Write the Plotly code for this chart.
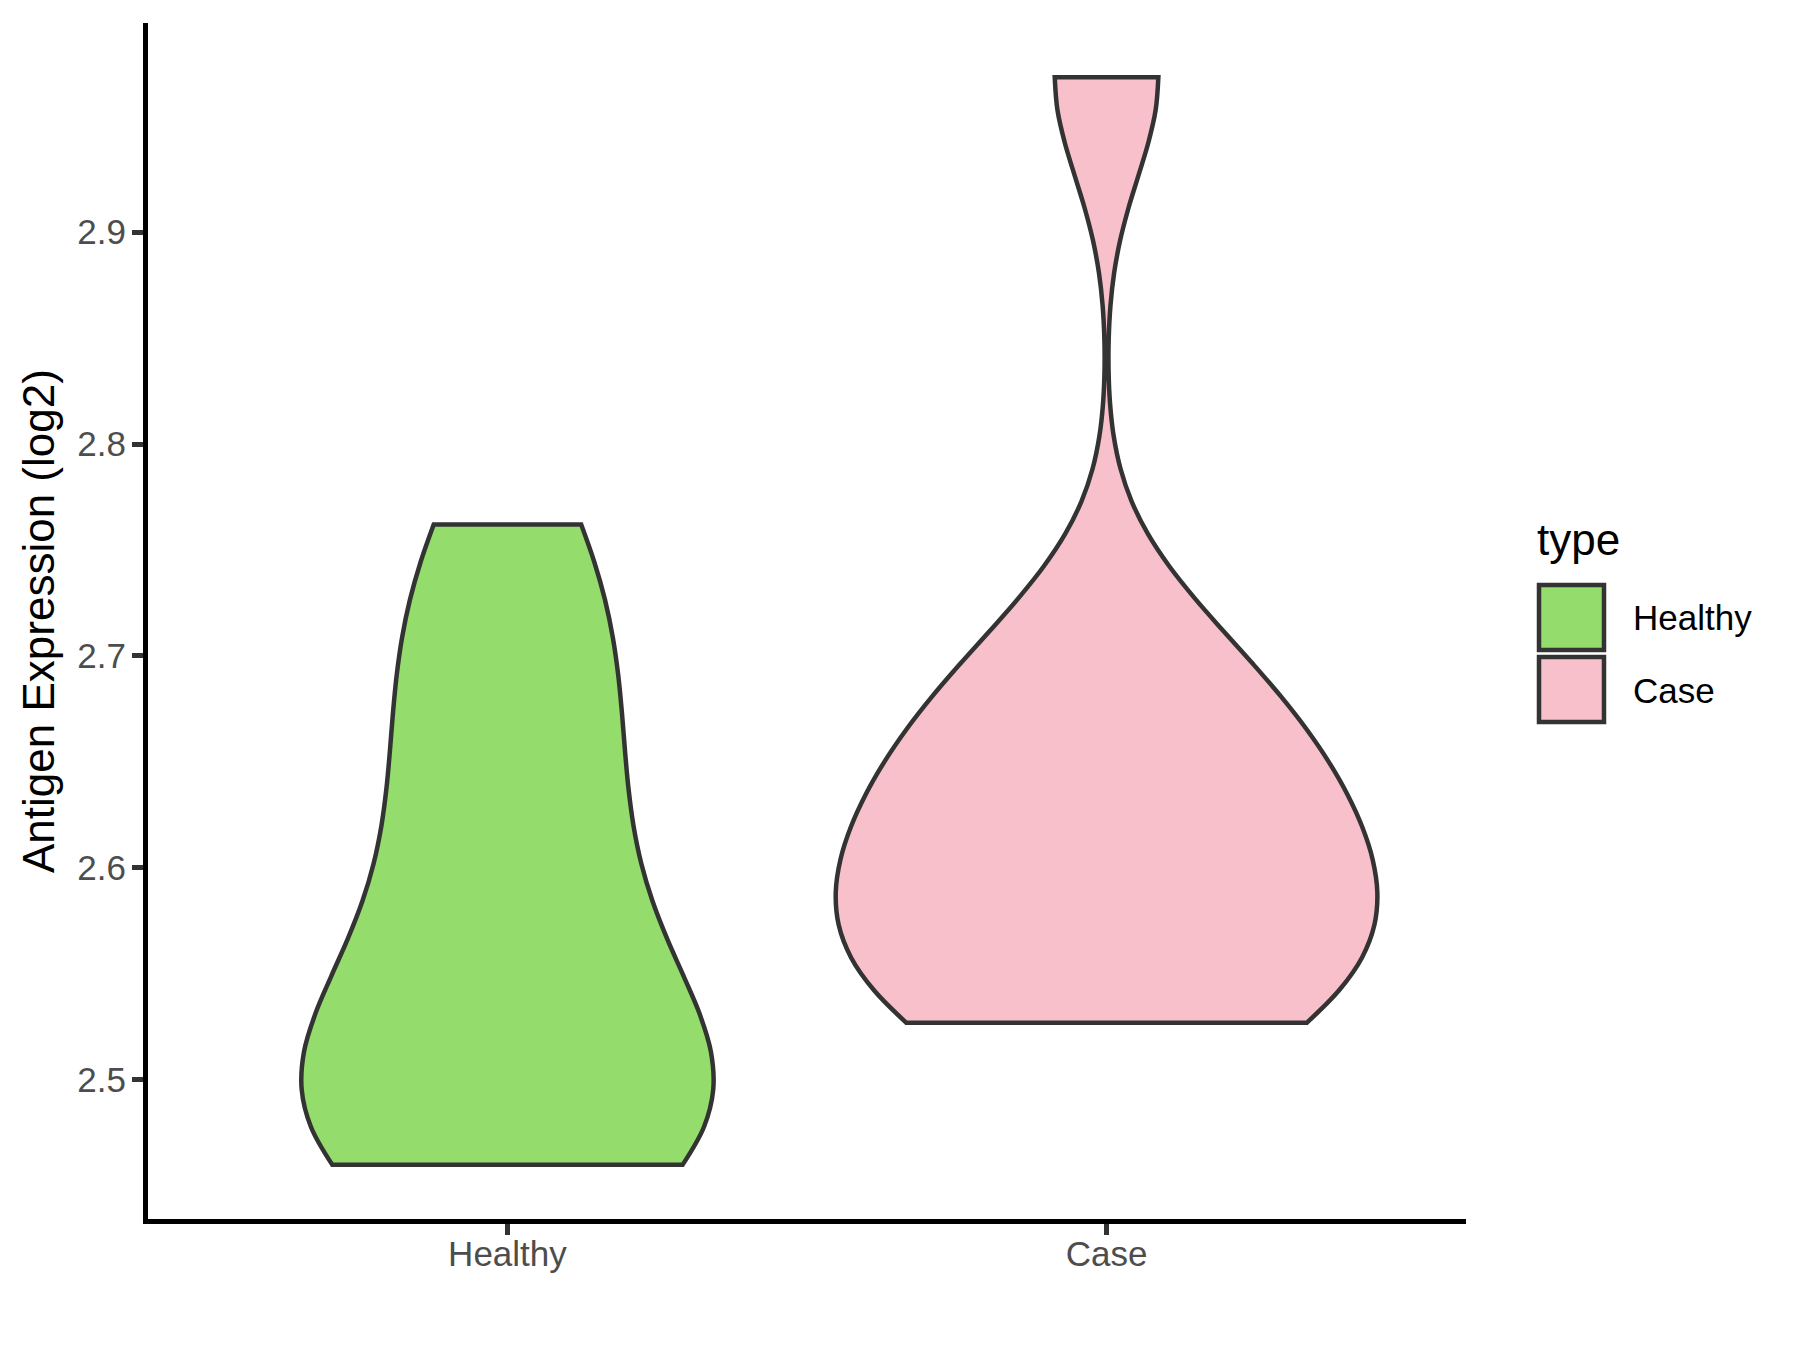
import plotly.graph_objects as go

# ---- data ----
categories = ["Healthy", "Case"]
healthy_values = [2.460, 2.462, 2.475, 2.492, 2.508, 2.530, 2.560, 2.600,
                  2.640, 2.680, 2.720, 2.762]
case_values = [2.527, 2.532, 2.558, 2.578, 2.598, 2.620, 2.645, 2.670,
               2.706, 2.973]
y_ticks = [2.5, 2.6, 2.7, 2.8, 2.9]
y_tick_labels = ["2.5", "2.6", "2.7", "2.8", "2.9"]

colors = {"Healthy": "#94DC6B", "Case": "#F8C0CB"}
bandwidths = {"Healthy": 0.055, "Case": 0.047}
widths = {"Healthy": 0.687, "Case": 0.904}
series = {"Healthy": healthy_values, "Case": case_values}

W, H = 1800, 1350
PAGE = 8  # browser body margin
ML, MT = 140, 15
PW, PH = 1318, 1196
MR, MB = W - ML - PW, H - MT - PH

def px_x(px):
    return (px - PAGE - ML) / PW

def px_y(py):
    return (MT + PAGE + PH - py) / PH

FONT = "Liberation Sans, Arial, sans-serif"
OUTLINE = "#333333"

fig = go.Figure()
for i, cat in enumerate(categories):
    fig.add_trace(go.Violin(
        y=series[cat], x0=i + 1, name=cat,
        fillcolor=colors[cat], line=dict(color=OUTLINE, width=4.5),
        opacity=1, spanmode="hard", bandwidth=bandwidths[cat],
        width=widths[cat], scalemode="width", points=False,
        box_visible=False, meanline_visible=False, showlegend=False,
        hoverinfo="skip",
    ))

all_vals = healthy_values + case_values
lo, hi = min(all_vals), max(all_vals)
pad = 0.05 * (hi - lo)

fig.update_layout(
    width=W, height=H,
    margin=dict(l=ML, r=MR, t=MT, b=MB, pad=0),
    paper_bgcolor="white", plot_bgcolor="white",
    violinmode="overlay",
    font=dict(family=FONT, color="#4D4D4D"),
    xaxis=dict(
        range=[0.4, 2.6], tickvals=[1, 2], ticktext=categories,
        showgrid=False, zeroline=False,
        showline=True, linecolor="black", linewidth=5,
        ticks="outside", ticklen=11, tickwidth=5, tickcolor=OUTLINE,
        ticklabelstandoff=-11,
        tickfont=dict(family=FONT, size=35, color="#4D4D4D"),
    ),
    yaxis=dict(
        range=[lo - pad, hi + pad], tickvals=y_ticks, ticktext=y_tick_labels,
        showgrid=False, zeroline=False,
        showline=True, linecolor="black", linewidth=5,
        ticks="outside", ticklen=11, tickwidth=5, tickcolor=OUTLINE,
        ticklabelstandoff=-1,
        tickfont=dict(family=FONT, size=35, color="#4D4D4D"),
    ),
)

# y axis title
fig.add_annotation(
    text="Antigen Expression (log2)", xref="paper", yref="paper",
    x=px_x(38), y=0.5, xanchor="center", yanchor="middle", textangle=-90,
    showarrow=False, font=dict(family=FONT, size=44, color="black"),
)

# legend (drawn manually to match large ggplot keys)
fig.add_annotation(
    text="type", xref="paper", yref="paper", x=px_x(1535), y=px_y(539),
    xanchor="left", yanchor="middle", showarrow=False,
    font=dict(family=FONT, size=44, color="black"),
)
key_tops = {"Healthy": 585, "Case": 657}
for cat in categories:
    top = key_tops[cat]
    fig.add_shape(
        type="rect", xref="paper", yref="paper",
        x0=px_x(1539), x1=px_x(1604), y0=px_y(top), y1=px_y(top + 65),
        fillcolor=colors[cat], line=dict(color=OUTLINE, width=4.5),
    )
    fig.add_annotation(
        text=cat, xref="paper", yref="paper", x=px_x(1631),
        y=px_y(top + 33), xanchor="left", yanchor="middle", showarrow=False,
        font=dict(family=FONT, size=35, color="black"),
    )

fig.write_html("out.html")
